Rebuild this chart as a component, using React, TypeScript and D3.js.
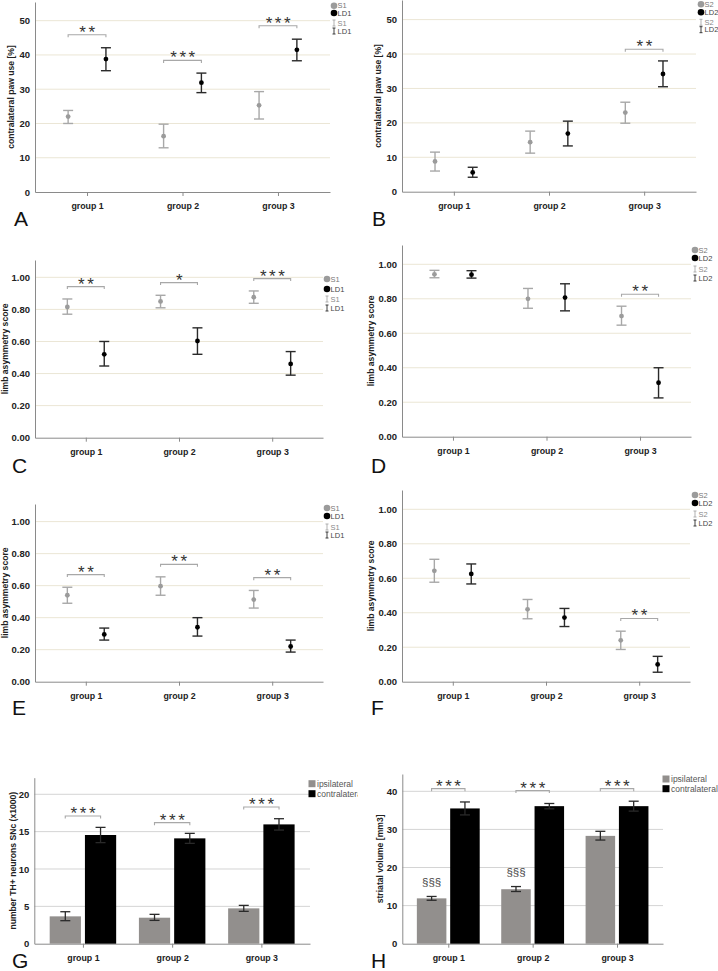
import { useEffect, useRef } from "react";
import * as d3 from "d3";

const groups = ["group 1", "group 2", "group 3"];

// A: contralateral paw use, S1 vs LD1
const aS1Mean = [22.0, 16.3, 25.3];
const aS1Lo = [20.0, 12.9, 21.3];
const aS1Hi = [23.8, 19.8, 29.3];
const aLD1Mean = [38.8, 31.9, 41.5];
const aLD1Lo = [35.4, 29.0, 38.3];
const aLD1Hi = [42.1, 34.7, 44.6];
const aSig = ["**", "***", "***"];
const aSigY = [45.9, 38.4, 48.5];

// B: contralateral paw use, S2 vs LD2
const bS2Mean = [8.8, 14.4, 23.0];
const bS2Lo = [6.0, 11.2, 19.9];
const bS2Hi = [11.5, 17.6, 26.0];
const bLD2Mean = [5.6, 16.9, 34.2];
const bLD2Lo = [4.2, 13.3, 30.5];
const bLD2Hi = [7.1, 20.5, 38.0];
const bSig = ["", "", "**"];
const bSigY = [0, 0, 41.4];

// C: limb asymmetry, S1 vs LD1
const cS1Mean = [0.815, 0.85, 0.876];
const cS1Lo = [0.77, 0.81, 0.838];
const cS1Hi = [0.865, 0.888, 0.915];
const cLD1Mean = [0.52, 0.603, 0.46];
const cLD1Lo = [0.447, 0.52, 0.39];
const cLD1Hi = [0.6, 0.685, 0.537];
const cSig = ["**", "*", "***"];
const cSigY = [0.942, 0.967, 0.992];

// D: limb asymmetry, S2 vs LD2
const dS2Mean = [0.942, 0.8, 0.7];
const dS2Lo = [0.922, 0.745, 0.647];
const dS2Hi = [0.965, 0.86, 0.757];
const dLD2Mean = [0.94, 0.807, 0.313];
const dLD2Lo = [0.92, 0.73, 0.225];
const dLD2Hi = [0.963, 0.887, 0.4];
const dSig = ["", "", "**"];
const dSigY = [0, 0, 0.826];

// E: limb asymmetry, S1 vs LD1
const eS1Mean = [0.54, 0.597, 0.513];
const eS1Lo = [0.49, 0.54, 0.46];
const eS1Hi = [0.59, 0.655, 0.57];
const eLD1Mean = [0.295, 0.34, 0.22];
const eLD1Lo = [0.26, 0.285, 0.185];
const eLD1Hi = [0.335, 0.4, 0.26];
const eSig = ["**", "**", "**"];
const eSigY = [0.669, 0.733, 0.65];

// F: limb asymmetry, S2 vs LD2
const fS2Mean = [0.643, 0.42, 0.24];
const fS2Lo = [0.577, 0.365, 0.187];
const fS2Hi = [0.71, 0.477, 0.293];
const fLD2Mean = [0.625, 0.372, 0.1];
const fLD2Lo = [0.567, 0.32, 0.055];
const fLD2Hi = [0.683, 0.425, 0.147];
const fSig = ["", "", "**"];
const fSigY = [0, 0, 0.367];

// G: TH+ neurons SNc (x1000)
const gIpsi = [3.66, 3.48, 4.73];
const gIpsiLo = [3.08, 3.12, 4.33];
const gIpsiHi = [4.28, 3.93, 5.13];
const gContra = [14.55, 14.1, 15.97];
const gContraLo = [13.53, 13.43, 15.21];
const gContraHi = [15.57, 14.77, 16.73];
const gSig = ["***", "***", "***"];
const gSigY = [17.1, 16.2, 18.3];

// H: striatal volume [mm3]
const hIpsi = [11.9, 14.3, 28.3];
const hIpsiLo = [11.4, 13.7, 27.2];
const hIpsiHi = [12.4, 15.0, 29.5];
const hContra = [35.5, 36.1, 36.1];
const hContraLo = [33.8, 35.4, 34.8];
const hContraHi = [37.2, 36.8, 37.4];
const hSig = ["***", "***", "***"];
const hSigY = [40.7, 40.2, 40.7];
const hMark = ["§§§", "§§§", ""];
const hMarkY = [16.2, 18.7, 0];

const FONT = "'Liberation Sans', Arial, sans-serif";

type Series = { label: string; mean: number[]; lo: number[]; hi: number[] };
type Panel = {
  kind: "points" | "bars";
  letter: string;
  letterX: number;
  letterY: number;
  left: number;
  right: number;
  yZero: number;
  top: number;
  yMax: number;
  ticks: number[];
  fmt: (v: number) => string;
  title: string;
  titleX: number;
  series: Series[];
  sig: string[];
  sigY: number[];
  marks?: string[];
  marksY?: number[];
  legendX: number;
  legendY: number[];
  clipRight?: number;
};

const ser = (label: string, mean: number[], lo: number[], hi: number[]): Series => ({ label, mean, lo, hi });
const f0 = d3.format("d");
const f2 = d3.format(".2f");
const unitTicks = [0, 0.2, 0.4, 0.6, 0.8, 1.0];

const panels: Panel[] = [
  {
    kind: "points", letter: "A", letterX: 14, letterY: 226, left: 35, right: 330, yZero: 192, top: 2, yMax: 55.45,
    ticks: [0, 10, 20, 30, 40, 50], fmt: f0, title: "contralateral paw use [%]", titleX: 12,
    series: [ser("S1", aS1Mean, aS1Lo, aS1Hi), ser("LD1", aLD1Mean, aLD1Lo, aLD1Hi)],
    sig: aSig, sigY: aSigY, legendX: 334, legendY: [5.7, 13, 23, 31],
  },
  {
    kind: "points", letter: "B", letterX: 372, letterY: 226, left: 402, right: 696, yZero: 191.7, top: 0, yMax: 55.7,
    ticks: [0, 10, 20, 30, 40, 50], fmt: f0, title: "contralateral paw use [%]", titleX: 379,
    series: [ser("S2", bS2Mean, bS2Lo, bS2Hi), ser("LD2", bLD2Mean, bLD2Lo, bLD2Hi)],
    sig: bSig, sigY: bSigY, legendX: 701, legendY: [4.3, 12.3, 22.3, 29.7],
  },
  {
    kind: "points", letter: "C", letterX: 12, letterY: 473, left: 35, right: 323, yZero: 437.7, top: 260, yMax: 1.108,
    ticks: unitTicks, fmt: f2, title: "limb asymmetry score", titleX: 6,
    series: [ser("S1", cS1Mean, cS1Lo, cS1Hi), ser("LD1", cLD1Mean, cLD1Lo, cLD1Hi)],
    sig: cSig, sigY: cSigY, legendX: 327, legendY: [279, 289, 299, 308],
  },
  {
    kind: "points", letter: "D", letterX: 371, letterY: 473, left: 402, right: 691, yZero: 436.7, top: 245, yMax: 1.112,
    ticks: unitTicks, fmt: f2, title: "limb asymmetry score", titleX: 372,
    series: [ser("S2", dS2Mean, dS2Lo, dS2Hi), ser("LD2", dLD2Mean, dLD2Lo, dLD2Hi)],
    sig: dSig, sigY: dSigY, legendX: 695, legendY: [250, 258, 269, 278],
  },
  {
    kind: "points", letter: "E", letterX: 12, letterY: 715, left: 35, right: 323, yZero: 681.7, top: 504, yMax: 1.11,
    ticks: unitTicks, fmt: f2, title: "limb asymmetry score", titleX: 6,
    series: [ser("S1", eS1Mean, eS1Lo, eS1Hi), ser("LD1", eLD1Mean, eLD1Lo, eLD1Hi)],
    sig: eSig, sigY: eSigY, legendX: 327, legendY: [508, 516, 527, 535],
  },
  {
    kind: "points", letter: "F", letterX: 371, letterY: 715, left: 402, right: 690, yZero: 681.7, top: 490, yMax: 1.112,
    ticks: unitTicks, fmt: f2, title: "limb asymmetry score", titleX: 372,
    series: [ser("S2", fS2Mean, fS2Lo, fS2Hi), ser("LD2", fLD2Mean, fLD2Lo, fLD2Hi)],
    sig: fSig, sigY: fSigY, legendX: 695, legendY: [495, 503, 514, 523],
  },
  {
    kind: "bars", letter: "G", letterX: 12, letterY: 968, left: 34.3, right: 310, yZero: 943.7, top: 777.7, yMax: 22.22,
    ticks: [0, 5, 10, 15, 20], fmt: f0, title: "number TH+ neurons SNc (x1000)", titleX: 14,
    series: [ser("ipsilateral", gIpsi, gIpsiLo, gIpsiHi), ser("contralateral", gContra, gContraLo, gContraHi)],
    sig: gSig, sigY: gSigY, legendX: 312, legendY: [783.7, 793.7], clipRight: 358,
  },
  {
    kind: "bars", letter: "H", letterX: 371, letterY: 968, left: 402.3, right: 663, yZero: 943.7, top: 774, yMax: 44.54,
    ticks: [0, 10, 20, 30, 40], fmt: f0, title: "striatal volume [mm3]", titleX: 381,
    series: [ser("ipsilateral", hIpsi, hIpsiLo, hIpsiHi), ser("contralateral", hContra, hContraLo, hContraHi)],
    sig: hSig, sigY: hSigY, marks: hMark, marksY: hMarkY, legendX: 666, legendY: [779, 788.7],
  },
];

const ptColors = ["#9b9b9b", "#000000"];
const errColors = ["#a8a8a8", "#2a2a2a"];
const barColors = ["#928f8d", "#000000"];

function drawPanel(root: d3.Selection<SVGGElement, unknown, null, undefined>, p: Panel, idx: number) {
  const g = root.append("g");
  if (p.clipRight) {
    const id = `clip-${idx}`;
    root.append("clipPath").attr("id", id).append("rect").attr("x", 0).attr("y", 0).attr("width", p.clipRight).attr("height", 971);
    g.attr("clip-path", `url(#${id})`);
  }
  const x = d3.scalePoint<string>().domain(groups).range([p.left, p.right]).padding(0.545);
  const y = d3.scaleLinear().domain([0, p.yMax]).range([p.yZero, p.top]);
  const step = x.step();
  const gridColor = p.kind === "bars" ? "#d4d4d4" : "#ebe6d5";

  // gridlines
  g.append("g")
    .selectAll("line")
    .data(p.ticks.filter((t) => t > 0))
    .enter()
    .append("line")
    .attr("x1", p.left)
    .attr("x2", p.right)
    .attr("y1", (d) => y(d))
    .attr("y2", (d) => y(d))
    .attr("stroke", gridColor)
    .attr("stroke-width", 1);

  // axes
  const yAxis = g
    .append("g")
    .attr("transform", `translate(${p.left},0)`)
    .call(d3.axisLeft(y).tickValues(p.ticks).tickSize(0).tickPadding(5).tickFormat((d) => p.fmt(d as number)));
  const xAxis = g
    .append("g")
    .attr("transform", `translate(0,${p.yZero})`)
    .call(d3.axisBottom(x).tickSizeInner(4).tickSizeOuter(0).tickPadding(7));
  [yAxis, xAxis].forEach((a) => {
    a.select(".domain").attr("stroke", "#8a8a8a");
    a.selectAll(".tick line").attr("stroke", "#8a8a8a");
    a.selectAll("text").attr("font-family", FONT).attr("font-weight", "bold").attr("fill", "#222");
  });
  yAxis.selectAll("text").attr("font-size", 9.5);
  xAxis.selectAll("text").attr("font-size", 8.8);

  // y title
  g.append("text")
    .attr("transform", `translate(${p.titleX},${(p.top + p.yZero) / 2}) rotate(-90)`)
    .attr("text-anchor", "middle")
    .attr("dominant-baseline", "middle")
    .attr("font-family", FONT)
    .attr("font-size", 8.6)
    .attr("font-weight", "bold")
    .attr("fill", "#222")
    .text(p.title);

  const off = step * 0.198;
  const capHalf = 5;

  if (p.kind === "points") {
    p.series.forEach((s, si) => {
      const sx = (gi: number) => (x(groups[gi]) as number) + (si === 0 ? -off : off);
      const eg = g.append("g").attr("stroke", errColors[si]).attr("stroke-width", 1.4).attr("fill", "none");
      groups.forEach((_, gi) => {
        const cx = sx(gi);
        eg.append("line").attr("x1", cx).attr("x2", cx).attr("y1", y(s.lo[gi])).attr("y2", y(s.hi[gi]));
        eg.append("line").attr("x1", cx - capHalf).attr("x2", cx + capHalf).attr("y1", y(s.lo[gi])).attr("y2", y(s.lo[gi]));
        eg.append("line").attr("x1", cx - capHalf).attr("x2", cx + capHalf).attr("y1", y(s.hi[gi])).attr("y2", y(s.hi[gi]));
      });
      g.append("g")
        .selectAll("circle")
        .data(s.mean)
        .enter()
        .append("circle")
        .attr("cx", (_, gi) => sx(gi))
        .attr("cy", (d) => y(d))
        .attr("r", 2.4)
        .attr("fill", ptColors[si]);
    });
  } else {
    const bw = step * 0.35;
    const gap = step * 0.045;
    p.series.forEach((s, si) => {
      const bx = (gi: number) => (x(groups[gi]) as number) + (si === 0 ? -gap / 2 - bw : gap / 2);
      g.append("g")
        .selectAll("rect")
        .data(s.mean)
        .enter()
        .append("rect")
        .attr("x", (_, gi) => bx(gi))
        .attr("y", (d) => y(d))
        .attr("width", bw)
        .attr("height", (d) => p.yZero - y(d))
        .attr("fill", barColors[si]);
      const eg = g.append("g").attr("stroke", "#2a2a2a").attr("stroke-width", 1.3);
      groups.forEach((_, gi) => {
        const cx = bx(gi) + bw / 2;
        eg.append("line").attr("x1", cx).attr("x2", cx).attr("y1", y(s.lo[gi])).attr("y2", y(s.hi[gi]));
        eg.append("line").attr("x1", cx - capHalf).attr("x2", cx + capHalf).attr("y1", y(s.lo[gi])).attr("y2", y(s.lo[gi]));
        eg.append("line").attr("x1", cx - capHalf).attr("x2", cx + capHalf).attr("y1", y(s.hi[gi])).attr("y2", y(s.hi[gi]));
      });
    });
    if (p.marks && p.marksY) {
      p.marks.forEach((m, gi) => {
        if (!m) return;
        g.append("text")
          .attr("x", (x(groups[gi]) as number) - gap / 2 - bw / 2)
          .attr("y", y(p.marksY![gi]))
          .attr("dy", "0.35em")
          .attr("text-anchor", "middle")
          .attr("font-family", FONT)
          .attr("font-size", 11.5)
          .attr("fill", "#444")
          .text(m);
      });
    }
  }

  // significance brackets
  p.sig.forEach((s, gi) => {
    if (!s) return;
    const cx = x(groups[gi]) as number;
    const x1 = cx - off;
    const x2 = cx + off;
    const yy = y(p.sigY[gi]);
    g.append("path")
      .attr("d", `M${x1},${yy + 2.5}V${yy}H${x2}V${yy + 2.5}`)
      .attr("fill", "none")
      .attr("stroke", "#a8a8a8")
      .attr("stroke-width", 1.1);
    g.append("text")
      .attr("x", cx + 1.5)
      .attr("y", yy + 3)
      .attr("text-anchor", "middle")
      .attr("font-family", FONT)
      .attr("font-size", 17)
      .attr("letter-spacing", 2.6)
      .attr("fill", "#333")
      .text(s);
  });

  // legend
  const lg = g.append("g").attr("font-family", FONT).attr("font-size", 7.5);
  if (p.kind === "points") {
    p.series.forEach((s, si) => {
      const yy = p.legendY[si];
      lg.append("circle").attr("cx", p.legendX).attr("cy", yy).attr("r", 3.3).attr("fill", ptColors[si]);
      lg.append("text").attr("x", p.legendX + 3.6).attr("y", yy).attr("dy", "0.35em").attr("fill", si === 0 ? "#777" : "#444").text(s.label);
    });
    p.series.forEach((s, si) => {
      const yy = p.legendY[2 + si];
      const c = errColors[si];
      const lx = p.legendX;
      lg.append("path")
        .attr("d", `M${lx - 1.5},${yy - 3}H${lx + 1.5}M${lx},${yy - 3}V${yy + 3}M${lx - 1.5},${yy + 3}H${lx + 1.5}`)
        .attr("stroke", c)
        .attr("stroke-width", 0.9)
        .attr("fill", "none");
      lg.append("text").attr("x", lx + 3.6).attr("y", yy).attr("dy", "0.35em").attr("fill", si === 0 ? "#888" : "#444").text(s.label);
    });
  } else {
    p.series.forEach((s, si) => {
      const yy = p.legendY[si];
      lg.append("rect").attr("x", p.legendX - 3.5).attr("y", yy - 3.5).attr("width", 7).attr("height", 7).attr("fill", barColors[si]);
      lg.append("text").attr("x", p.legendX + 5).attr("y", yy).attr("dy", "0.35em").attr("font-size", 8.5).attr("fill", "#555").text(s.label);
    });
  }

  // panel letter
  g.append("text")
    .attr("x", p.letterX)
    .attr("y", p.letterY)
    .attr("font-family", FONT)
    .attr("font-size", 21)
    .attr("fill", "#111")
    .text(p.letter);
}

export default function App() {
  const ref = useRef<SVGSVGElement | null>(null);

  useEffect(() => {
    const svg = d3.select(ref.current);
    svg.selectAll("*").remove();
    const root = svg.append("g") as unknown as d3.Selection<SVGGElement, unknown, null, undefined>;
    panels.forEach((p, i) => drawPanel(root, p, i));
  }, []);

  return (
    <svg
      ref={ref}
      width={718}
      height={971}
      style={{ position: "absolute", left: 0, top: 0, background: "#fff", display: "block" }}
    />
  );
}
